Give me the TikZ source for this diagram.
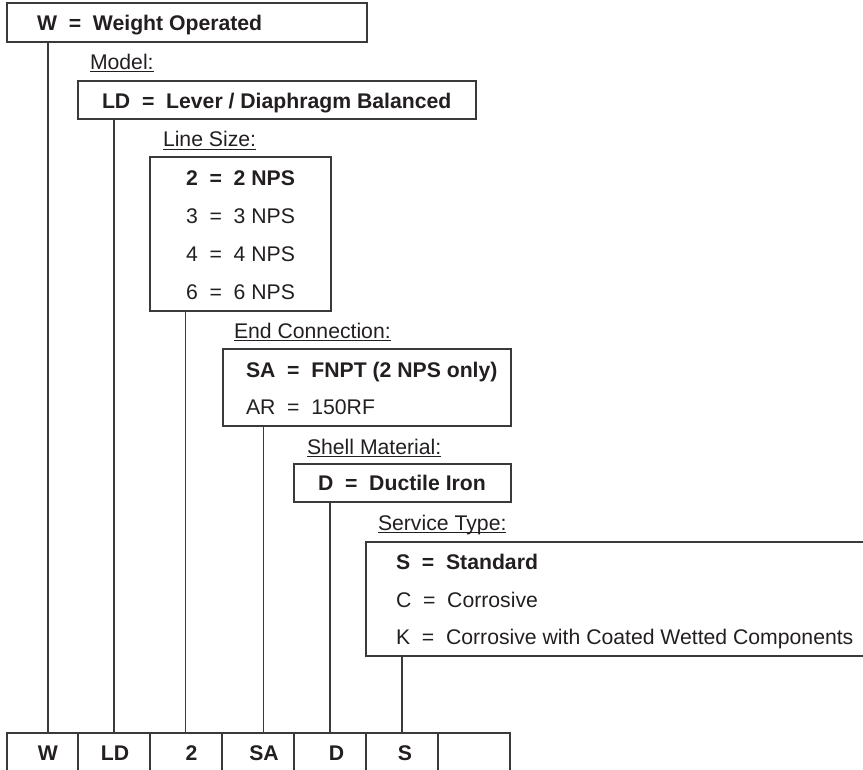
\documentclass[tikz,border=0pt]{standalone}
\usepackage{fontspec}
\setmainfont{Liberation Sans}
\definecolor{ink}{HTML}{231F20}
\definecolor{rulec}{HTML}{3A3A3A}
\begin{document}
\begin{tikzpicture}[x=1pt,y=-1pt,
  every node/.style={inner sep=0pt, outer sep=0pt, text=ink, font=\fontsize{21.2}{25}\selectfont},
  box/.style={draw=rulec, line width=1.2pt, rectangle, anchor=north west},
  txt/.style={anchor=base west},
  btxt/.style={anchor=base west, font=\fontsize{21.2}{25}\selectfont\bfseries},
  lab/.style={anchor=base west},
  cell/.style={anchor=base, font=\fontsize{21.2}{25}\selectfont\bfseries},
  conn/.style={draw=rulec, line width=1.2pt},
  uline/.style={draw=ink, line width=1pt}]
\useasboundingbox (0,0) rectangle (863,770);

% boxes
\node[box, minimum width=360pt, minimum height=39pt] (wbox) at (7,3) {};
\node[box, minimum width=398pt, minimum height=38pt] (ldbox) at (78,81) {};
\node[box, minimum width=181pt, minimum height=154pt] (lsbox) at (150,157) {};
\node[box, minimum width=288pt, minimum height=77pt] (ecbox) at (223,349) {};
\node[box, minimum width=217pt, minimum height=38pt] (smbox) at (294,464) {};
\node[box, minimum width=530pt, minimum height=114pt] (stbox) at (366,542) {};

% box texts
\node[btxt] (tw) at (37,30.7) {W\ \ =\ \ Weight Operated};
\node[btxt] (tld) at (102,109) {LD\ \ =\ \ Lever / Diaphragm Balanced};
\node[btxt] (t2) at (186,185.5) {2\ \ =\ \ 2 NPS};
\node[txt] (t3) at (186,224) {3\ \ =\ \ 3 NPS};
\node[txt] (t4) at (186,261.5) {4\ \ =\ \ 4 NPS};
\node[txt] (t6) at (186,299.5) {6\ \ =\ \ 6 NPS};
\node[btxt] (tsa) at (246,377.5) {SA\ \ =\ \ FNPT (2 NPS only)};
\node[txt] (tar) at (246,414) {AR\ \ =\ \ 150RF};
\node[btxt] (td) at (318,490.5) {D\ \ =\ \ Ductile Iron};
\node[btxt] (ts) at (396,569.5) {S\ \ =\ \ Standard};
\node[txt] (tc) at (396,607.5) {C\ \ =\ \ Corrosive};
\node[txt] (tk) at (396,644.5) {K\ \ =\ \ Corrosive with Coated Wetted Components};

% headings
\node[lab] (lm) at (90,69.3) {Model:};
\node[lab] (lls) at (163,147) {Line Size:};
\node[lab] (lec) at (234,338) {End Connection:};
\node[lab] (lsm) at (307,454) {Shell Material:};
\node[lab] (lst) at (378,530) {Service Type:};
\foreach \n in {lm,lls,lec,lsm,lst}
  \draw[uline] ([yshift=-2.6pt]\n.base west) -- ([yshift=-2.6pt]\n.base east);

% bottom cells
\node[box, minimum width=71pt, minimum height=60pt] (c1) at (7,733) {};
\node[box, minimum width=72pt, minimum height=60pt] (c2) at (78,733) {};
\node[box, minimum width=72pt, minimum height=60pt] (c3) at (150,733) {};
\node[box, minimum width=72pt, minimum height=60pt] (c4) at (222,733) {};
\node[box, minimum width=72pt, minimum height=60pt] (c5) at (294,733) {};
\node[box, minimum width=72pt, minimum height=60pt] (c6) at (366,733) {};
\node[box, minimum width=72pt, minimum height=60pt] (c7) at (438,733) {};

\node[cell] (b1) at (48,760.5) {W};
\node[cell] (b2) at (115,760.5) {LD};
\node[cell] (b3) at (191.5,760.5) {2};
\node[cell] (b4) at (264,760.5) {SA};
\node[cell] (b5) at (336.5,760.5) {D};
\node[cell] (b6) at (405,760.5) {S};

% connectors
\coordinate (x1) at (48,0);
\coordinate (x2) at (114,0);
\coordinate (x3) at (185.5,0);
\coordinate (x4) at (263.5,0);
\coordinate (x5) at (330,0);
\coordinate (x6) at (402,0);
\draw[conn] (x1 |- wbox.south) -- (x1 |- c1.north);
\draw[conn] (x2 |- ldbox.south) -- (x2 |- c2.north);
\draw[conn] (x3 |- lsbox.south) -- (x3 |- c3.north);
\draw[conn] (x4 |- ecbox.south) -- (x4 |- c4.north);
\draw[conn] (x5 |- smbox.south) -- (x5 |- c5.north);
\draw[conn] (x6 |- stbox.south) -- (x6 |- c6.north);
\end{tikzpicture}
\end{document}
